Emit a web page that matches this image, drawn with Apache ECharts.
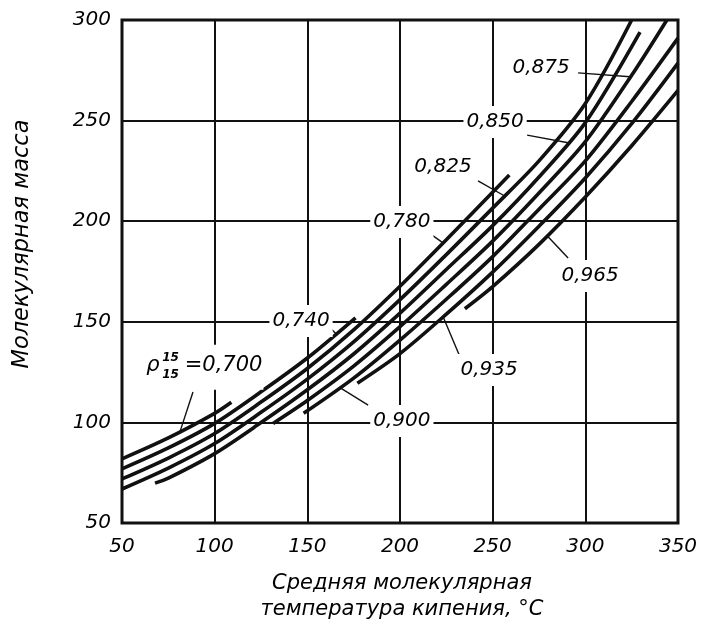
<!DOCTYPE html>
<html><head><meta charset="utf-8">
<script src="https://cdn.jsdelivr.net/npm/echarts@6/dist/echarts.min.js"></script>
<style>html,body{margin:0;padding:0;background:#fff}#c{width:702px;height:629px}</style>
</head><body><div id="c"></div>
<script>
// Axis ticks
const xTicks = [50, 100, 150, 200, 250, 300, 350];
const yTicks = [50, 100, 150, 200, 250, 300];
// Curves: [temperature °C, molecular mass] for each density ρ15/15
const densities = ['0,700','0,740','0,780','0,825','0,850','0,875','0,900','0,935','0,965'];
const c700 = [[50,81.9],[75,92.3],[100,104.5],[109,110]];
const c740 = [[50,76.9],[75,87.3],[100,99.5],[125,115.2],[150,132],[176,152]];
const c780 = [[50,71.9],[75,82.3],[100,94.5],[125,110.1],[150,126.8],[175,146],[200,167.7],[225,190.8],[259,223]];
const c825 = [[50,66.9],[75,77.3],[100,89.5],[125,105],[150,121.5],[175,140],[200,161],[225,183.4],[250,206.5],[275,230],[300,258.5],[325,300]];
const c850 = [[67.8,69.8],[75,72.3],[100,84.5],[125,99.9],[150,116.2],[175,134],[200,154.3],[225,176],[250,197.8],[275,222],[300,249],[329.5,294]];
const c875 = [[131.5,99.5],[150,110.9],[175,128],[200,147.6],[225,168.6],[250,190.1],[275,214],[300,239.5],[325,272.5],[344,300]];
const c900 = [[148,104.5],[175,122],[200,140.9],[225,161.2],[250,182.4],[275,206],[300,230],[325,259.5],[350,291]];
const c935 = [[177,119.5],[200,134.2],[225,153.8],[250,174.7],[275,197.5],[300,221.5],[325,248.5],[350,278.6]];
const c965 = [[235,156.5],[250,167.5],[275,188.5],[300,212],[325,237.5],[350,265]];
const curves = [c700,c740,c780,c825,c850,c875,c900,c935,c965];
// Curve labels: [t, M, text]
const labelPos = [[146.6,150.4,'0,740'],[201,199.6,'0,780'],[223.2,226.9,'0,825'],[251.3,249.3,'0,850'],[276.1,276.1,'0,875'],[201,100.7,'0,900'],[248.1,126,'0,935'],[302.6,172.8,'0,965']];
// ρ label parts
const rhoPos = [[66.7,127.2,'ρ','big'],[76.2,127.9,'15\n15','idx'],[104.8,127.4,'=0,700','big']];
// Leader lines: [[t1,M1],[t2,M2]]
const leaders = [
  [[88.3,115.1],[81.3,95.4]],
  [[162.3,146.9],[165.5,144]],
  [[217.3,193.1],[223.2,189.2]],
  [[242.1,220],[256.7,212.4]],
  [[268.6,242.8],[290.7,239]],
  [[296.1,273.7],[324.1,271.8]],
  [[182.8,108.6],[167.6,117.3]],
  [[232.4,132.5],[223.2,152.6]],
  [[290.7,181.7],[279.4,192.8]]
];

const FONT = 'DejaVu Sans';
const chart = echarts.init(document.getElementById('c'), null, {renderer:'canvas'});
const series = curves.map((d,i)=>({
  type:'line', name:densities[i], data:d, smooth:0.3,
  symbol:'none', lineStyle:{color:'#111', width:3.6}, z:4, silent:true
}));
series.push({
  type:'lines', coordinateSystem:'cartesian2d', z:5, silent:true,
  lineStyle:{color:'#111', width:1.4, opacity:1},
  data: leaders.map(l=>({coords:l}))
});
series.push({
  type:'scatter', symbolSize:0, z:6, silent:true, itemStyle:{opacity:1},
  data: labelPos.map(p=>({value:[p[0],p[1]], name:p[2]})),
  label:{show:true, position:'inside', formatter:p=>p.name, fontFamily:FONT, fontStyle:'italic',
    fontSize:20, color:'#000', opacity:1, backgroundColor:'#fff', padding:[6,3,6,3]}
});
series.push({
  type:'scatter', symbolSize:0, z:6, silent:true, itemStyle:{opacity:1},
  data: rhoPos.map(p=>({value:[p[0],p[1]], name:p[2], kind:p[3]})),
  label:{show:true, position:'inside', fontFamily:FONT, fontStyle:'italic', color:'#000', opacity:1,
    backgroundColor:'#fff',
    formatter:p=>p.data.kind==='idx' ? '{i|'+p.name+'}' : '{b|'+p.name+'}',
    rich:{ b:{fontFamily:FONT, fontStyle:'italic', fontSize:21, color:'#000', padding:[10,1,14,1]},
           i:{fontFamily:FONT, fontStyle:'italic', fontSize:12, fontWeight:'bold', lineHeight:17, color:'#000'} }
  }
});

chart.setOption({
  animation:false,
  backgroundColor:'#fff',
  grid:{left:122, right:24, top:20, bottom:106, show:true, borderColor:'#111', borderWidth:3, backgroundColor:'rgba(0,0,0,0)'},
  xAxis:{type:'value', min:xTicks[0], max:xTicks[xTicks.length-1], interval:50,
    axisLine:{show:false}, axisTick:{show:false},
    splitLine:{show:true, lineStyle:{color:'#111', width:2}},
    axisLabel:{fontFamily:FONT, fontStyle:'italic', fontSize:20, color:'#000', margin:14}},
  yAxis:{type:'value', min:yTicks[0], max:yTicks[yTicks.length-1], interval:50,
    axisLine:{show:false}, axisTick:{show:false},
    splitLine:{show:true, lineStyle:{color:'#111', width:2}},
    axisLabel:{fontFamily:FONT, fontStyle:'italic', fontSize:20, color:'#000', margin:11}},
  graphic:[
    {type:'text', position:[402,571], style:{text:'Средняя молекулярная\nтемпература кипения, °C', font:'italic 21px "DejaVu Sans"', fill:'#000', textAlign:'center', lineHeight:26}},
    {type:'text', rotation:Math.PI/2, position:[22,244], style:{text:'Молекулярная масса', font:'italic 22.5px "DejaVu Sans"', fill:'#000', textAlign:'center', textVerticalAlign:'middle'}}
  ],
  series: series
});
</script></body></html>
